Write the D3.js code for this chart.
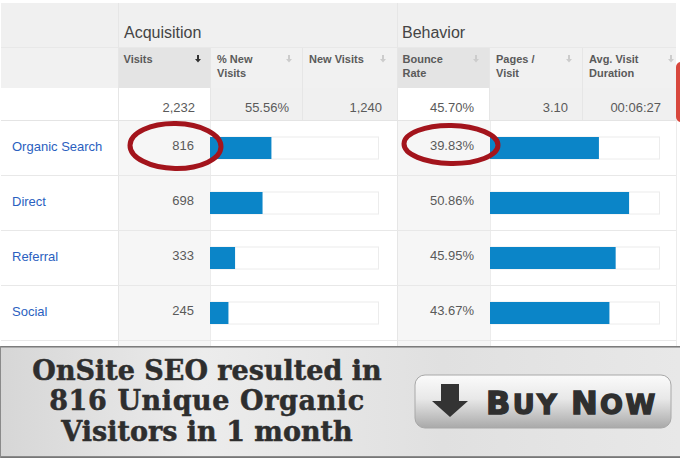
<!DOCTYPE html>
<html><head><meta charset="utf-8">
<script src="https://cdn.jsdelivr.net/npm/d3@7/dist/d3.min.js"></script>
<style>html,body{margin:0;padding:0;background:#fff}svg{display:block}</style></head>
<body><svg id="c" width="680" height="458"></svg>
<script>
const channels = ["Organic Search","Direct","Referral","Social"];
const visits = [816,698,333,245];
const bounceRates = [39.83,50.86,45.95,43.67];
const columnHeads = [["Visits"],["% New","Visits"],["New Visits"],["Bounce","Rate"],["Pages /","Visit"],["Avg. Visit","Duration"]];
const totals = ["2,232","55.56%","1,240","45.70%","3.10","00:06:27"];
const groups = ["Acquisition","Behavior"];
const headline = ["OnSite SEO resulted in","816 Unique Organic","Visitors in 1 month"];
const visitsTotal = 2232;
const bounceMax = 61.8;

const svg = d3.select("#c");
const sans = "'Liberation Sans',Arial,sans-serif";
const colEdges = [118,211,303,397,490,583,676];
const colX = d3.scaleOrdinal().domain(d3.range(6)).range(colEdges);
const rowY = d3.scaleBand().domain(channels).range([120,340]);
const xVisits = d3.scaleLinear().domain([0,visitsTotal]).range([210,378]);
const xBounce = d3.scaleLinear().domain([0,bounceMax]).range([490,659]);

const rect=(x,y,w,h,f)=>svg.append("rect").attr("x",x).attr("y",y).attr("width",w).attr("height",h).attr("fill",f);
const line=(x1,y1,x2,y2,s)=>svg.append("line").attr("x1",x1).attr("y1",y1).attr("x2",x2).attr("y2",y2).attr("stroke",s);

// Header backgrounds
rect(1,3,675,45,"#f0f0f0");
rect(1,48,675,40,"#f1f1f1");
rect(1,88,117,32,"#ffffff");
rect(118,88,558,32,"#f0f0f0");
rect(118,48,93,40,"#e4e4e4");
rect(397,48,93,40,"#e4e4e4");
rect(118,88,93,32,"#ffffff");
rect(397,88,93,32,"#ffffff");
// Body highlighted columns
rect(118,120,92,226,"#f6f6f6");
rect(397,120,93,226,"#f6f6f6");
// Grid
line(1,47.5,676,47.5,"#e8e8e8");
[118,397].forEach(x=>line(x+.5,3,x+.5,346,"#e6e6e6"));
[211,303,490,583].forEach(x=>line(x-.5,48,x-.5,120,"#e6e6e6"));
[210,490].forEach(x=>line(x+.5,120,x+.5,346,"#ececec"));
line(676.5,120,676.5,346,"#ececec");
line(1,120.5,676,120.5,"#e4e4e4");
channels.forEach(c=>line(1,rowY(c)+rowY.bandwidth()+.5,676,rowY(c)+rowY.bandwidth()+.5,"#e8e8e8"));

// Group titles
svg.selectAll(".grp").data(groups).join("text").attr("class","grp")
  .attr("x",(d,i)=>i?402:124).attr("y",38).attr("font-family",sans).attr("font-size",16).attr("fill","#444").text(d=>d);

// Column heads
columnHeads.forEach((h,i)=>{
  const x=colX(i)+6;
  h.forEach((t,j)=>svg.append("text").attr("x",i==0||i==3?x-.5:x).attr("y",63+j*14).attr("font-family",sans)
    .attr("font-size",11).attr("font-weight","bold").attr("fill","#5a5a5a").text(t));
  const ax=colEdges[i+1]-(i==5?5:14)+ (i==0?1:0), col=i==0?"#333":"#ccc";
  svg.append("path").attr("d",`M${ax-1} 55v4h-2l3 3.5l3-3.5h-2v-4z`).attr("fill",col);
});
// Totals
totals.forEach((t,i)=>svg.append("text").attr("x",[195,289,382,474,568,661][i]).attr("y",112).attr("text-anchor","end")
  .attr("font-family",sans).attr("font-size",13).attr("fill","#5a5a5a").text(t));

// Rows
const yMid=c=>rowY(c)+rowY.bandwidth()/2;
svg.selectAll(".lbl").data(channels).join("text").attr("class","lbl").attr("x",12).attr("y",c=>yMid(c)+3.5)
  .attr("font-family",sans).attr("font-size",13).attr("fill","#2b5fc0").text(c=>c);
svg.selectAll(".v").data(visits).join("text").attr("class","v").attr("x",194).attr("y",(d,i)=>yMid(channels[i])+2.5)
  .attr("text-anchor","end").attr("font-family",sans).attr("font-size",13).attr("fill","#5a5a5a").text(d=>d);
svg.selectAll(".b").data(bounceRates).join("text").attr("class","b").attr("x",474).attr("y",(d,i)=>yMid(channels[i])+2.5)
  .attr("text-anchor","end").attr("font-family",sans).attr("font-size",13).attr("fill","#5a5a5a").text(d=>d.toFixed(2)+"%");

const tracks=(scale,vals,cls)=>{
  svg.selectAll(".t"+cls).data(vals).join("rect").attr("class","t"+cls)
    .attr("x",scale.range()[0]+.5).attr("y",(d,i)=>yMid(channels[i])-10.5)
    .attr("width",scale.range()[1]-scale.range()[0]).attr("height",22).attr("fill","#fff").attr("stroke","#ececec");
  svg.selectAll(".f"+cls).data(vals).join("rect").attr("class","f"+cls)
    .attr("x",scale(0)).attr("y",(d,i)=>yMid(channels[i])-10.5)
    .attr("width",d=>scale(d)-scale(0)).attr("height",22).attr("fill","#0b85c8");
};
tracks(xVisits,visits,"v");
tracks(xBounce,bounceRates,"b");

// Red tab at right edge
svg.append("rect").attr("x",676).attr("y",62).attr("width",12).attr("height",60).attr("rx",5).attr("fill","#d8473d");

// Hand-drawn ellipses
const ring=(cx,cy,rx,ry)=>svg.append("ellipse").attr("cx",cx).attr("cy",cy).attr("rx",rx).attr("ry",ry)
  .attr("fill","none").attr("stroke","#a3141c").attr("stroke-width",5).attr("transform",`rotate(1 ${cx} ${cy})`);
ring(175.5,146,45.5,22.5);
ring(451,144.5,47,19);

// Banner
const defs=svg.append("defs");
const g1=defs.append("linearGradient").attr("id","ban").attr("x1",0).attr("x2",1).attr("y1",0).attr("y2",0);
[[0,"#d6d6d6"],[.3,"#ececec"],[.65,"#e0e0e0"],[1,"#e8e8e8"]].forEach(s=>g1.append("stop").attr("offset",s[0]).attr("stop-color",s[1]));
const g2=defs.append("linearGradient").attr("id","btn").attr("x1",0).attr("x2",0).attr("y1",0).attr("y2",1);
[[0,"#fbfbfb"],[.45,"#e8e8e8"],[1,"#a9a9a9"]].forEach(s=>g2.append("stop").attr("offset",s[0]).attr("stop-color",s[1]));
rect(0,346,680,112,"url(#ban)");
line(0,346.5,680,346.5,"#7c7c7c"); line(0,347.5,680,347.5,"#aaa");
line(0,456.5,680,456.5,"#8a8a8a"); line(0,457.5,680,457.5,"#777");
line(.5,346,.5,458,"#8a8a8a");

headline.forEach((t,i)=>svg.append("text").attr("x",207).attr("y",[380,410,441][i]).attr("text-anchor","middle")
  .attr("font-family","'DejaVu Serif',Georgia,serif").attr("font-weight","bold").attr("font-size",27)
  .attr("letter-spacing",i==1?.6:0).attr("stroke","#2e2e2e").attr("stroke-width",.5)
  .attr("fill","#2e2e2e").text(t));

// Buy button
svg.append("rect").attr("x",415).attr("y",375).attr("width",256).attr("height",53).attr("rx",10)
  .attr("fill","url(#btn)").attr("stroke","#a8a8a8");
svg.append("path").attr("d","M441 384h18v17h9l-18 16l-18-16h9z").attr("fill","#333");
const buy=svg.append("text").attr("x",486).attr("y",414).attr("font-family","'DejaVu Sans',sans-serif").attr("font-weight","bold")
  .attr("fill","#2f2f2f").attr("stroke","#2f2f2f").attr("stroke-width",1.4).attr("letter-spacing",2.4);
[["B",32],["UY ",27],["N",32],["OW",27]].forEach(d=>buy.append("tspan").attr("font-size",d[1]).text(d[0]));
</script></body></html>
